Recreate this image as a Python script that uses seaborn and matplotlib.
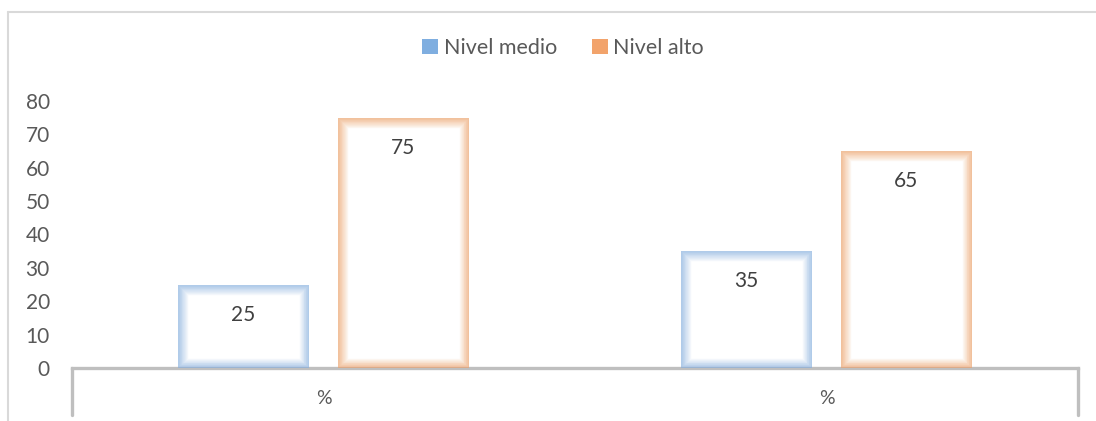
import matplotlib
matplotlib.use("Agg")
import matplotlib.pyplot as plt
from matplotlib.lines import Line2D
from matplotlib.patches import Patch, Rectangle
import pandas as pd
import seaborn as sns

sns.set_theme(style="white")
plt.rcParams["font.family"] = ["Lato", "DejaVu Sans"]

# datos
grupos = ["g1", "g2"]
etiquetas_x = ["%", "%"]
niveles = ["Nivel medio", "Nivel alto"]
nivel_medio = [25, 35]
nivel_alto = [75, 65]
y_ticks = [0, 10, 20, 30, 40, 50, 60, 70, 80]

colores_borde = {"Nivel medio": "#8DB4E2", "Nivel alto": "#F0A672"}
colores_leyenda = {"Nivel medio": "#7FAEE0", "Nivel alto": "#F2A36B"}
GRIS_TEXTO = "#595959"
GRIS_EJE = "#BFBFBF"

df = pd.DataFrame({
    "grupo": grupos * 2,
    "nivel": [niveles[0]] * len(grupos) + [niveles[1]] * len(grupos),
    "valor": nivel_medio + nivel_alto,
})

fig = plt.figure(figsize=(10.96, 4.21), dpi=100)
ax = fig.add_axes([72 / 1096, 53 / 421, 1006 / 1096, 267 / 421])

sns.barplot(
    data=df, x="grupo", y="valor", hue="nivel", order=grupos, hue_order=niveles,
    palette=colores_borde, width=0.636, gap=0.176, legend=False, ax=ax,
)

# barras "resplandor": relleno blanco con borde difuminado hacia dentro
capas = [14, 12.5, 11, 9.5, 8, 7, 6, 5, 4, 3, 2, 1.2]
for cont, nivel in zip(ax.containers, niveles):
    color = colores_borde[nivel]
    for bar in cont:
        bar.set_facecolor("white")
        bar.set_edgecolor("none")
        x0, y0 = bar.get_xy()
        w, h = bar.get_width(), bar.get_height()
        for lw in capas:
            r = Rectangle((x0, y0), w, h, fill=False, edgecolor=color, lw=lw,
                          alpha=0.085, zorder=3, joinstyle="miter")
            ax.add_patch(r)
            r.set_clip_path(bar)
    ax.bar_label(cont, padding=-29, fontsize=15, color="#404040", zorder=5)

ax.set_ylim(0, 80)
ax.set_yticks(y_ticks)
ax.set_xticks(range(len(grupos)))
ax.set_xticklabels(etiquetas_x)
ax.set_xlabel("")
ax.set_ylabel("")
ax.tick_params(axis="y", length=0, pad=16, labelsize=15, labelcolor=GRIS_TEXTO)
ax.tick_params(axis="x", length=0, pad=16, labelsize=14, labelcolor=GRIS_TEXTO)
for s in ["top", "right", "left"]:
    ax.spines[s].set_visible(False)
ax.spines["bottom"].set_color(GRIS_EJE)
ax.spines["bottom"].set_linewidth(2.4)

# bordes verticales del eje de categorías
for xa in [0, 1]:
    ax.add_line(Line2D([xa, xa], [0, -47 / 267], transform=ax.transAxes,
                       color=GRIS_EJE, lw=2.4, clip_on=False))

handles = [Patch(facecolor=colores_leyenda[n], edgecolor="none", label=n) for n in niveles]
fig.legend(handles=handles, loc="center", bbox_to_anchor=(563 / 1096, 1 - 48 / 421), ncol=2,
           frameon=False, fontsize=15.5, labelcolor=GRIS_TEXTO, handlelength=0.75,
           handleheight=0.75, handletextpad=0.25, columnspacing=1.6)

# marco exterior del gráfico
fig.add_artist(Line2D([8 / 1096, 8 / 1096], [0, 1 - 12 / 421], color="#D9D9D9", lw=1.5))
fig.add_artist(Line2D([8 / 1096, 1], [1 - 12 / 421, 1 - 12 / 421], color="#D9D9D9", lw=1.5))

fig.savefig("out.png", dpi=100, facecolor="white")
